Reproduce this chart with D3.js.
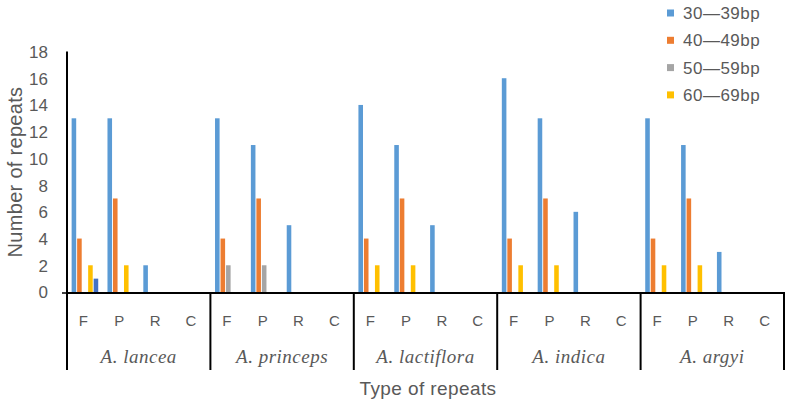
<!DOCTYPE html>
<html><head><meta charset="utf-8">
<script src="https://cdn.jsdelivr.net/npm/d3@7"></script>
<style>body{margin:0;background:#fff}svg{display:block}</style>
</head><body>
<svg id="c" width="786" height="400"></svg>
<script>
const groups = ["A. lancea","A. princeps","A. lactiflora","A. indica","A. argyi"];
const categories = ["F","P","R","C"];
const series = ["30—39bp","40—49bp","50—59bp","60—69bp","70—79bp"];
const legendSeries = ["30—39bp","40—49bp","50—59bp","60—69bp"];
const colors = ["#5B9BD5","#ED7D31","#A5A5A5","#FFC000","#4472C4"];
const yTicks = [0,2,4,6,8,10,12,14,16,18];
// values[group][category] = per-series counts
const lanceaVals    = [[13,4,0,2,1],[13,7,0,2,0],[2,0,0,0,0],[0,0,0,0,0]];
const princepsVals  = [[13,4,2,0,0],[11,7,2,0,0],[5,0,0,0,0],[0,0,0,0,0]];
const lactifloraVals= [[14,4,0,2,0],[11,7,0,2,0],[5,0,0,0,0],[0,0,0,0,0]];
const indicaVals    = [[16,4,0,2,0],[13,7,0,2,0],[6,0,0,0,0],[0,0,0,0,0]];
const argyiVals     = [[13,4,0,2,0],[11,7,0,2,0],[3,0,0,0,0],[0,0,0,0,0]];
const values = [lanceaVals, princepsVals, lactifloraVals, indicaVals, argyiVals];

const svg = d3.select("#c");
const L = 67, R = 784, Y0 = 292, Y1 = 51.5;
const txt = "#595959";
const sans = "Liberation Sans, Arial, sans-serif";
const x0 = d3.scaleBand().domain(groups).range([L, R]);
const x1 = d3.scaleBand().domain(categories).range([0, x0.bandwidth()]);
const cw = x1.bandwidth();
const x2 = d3.scaleBand().domain(series).range([cw/2 - 13.3, cw/2 + 13.3]).paddingInner(0.17);
const y = d3.scaleLinear().domain([0,18]).range([Y0, Y1]);

// bars
const data = [];
groups.forEach((g,gi)=>categories.forEach((c,ci)=>series.forEach((s,si)=>{
  const v = values[gi][ci][si];
  if (v>0) data.push({g,c,s,v,si});
})));
svg.append("g").selectAll("rect").data(data).join("rect")
  .attr("x", d=>x0(d.g)+x1(d.c)+x2(d.s))
  .attr("width", x2.bandwidth())
  .attr("y", d=>y(d.v))
  .attr("height", d=>Y0 - y(d.v))
  .attr("fill", d=>colors[d.si]);

// y axis
const yAxis = d3.axisLeft(y).tickValues(yTicks).tickSize(0).tickPadding(0);
const ya = svg.append("g").attr("transform",`translate(48,0)`).call(yAxis);
ya.select(".domain").remove();
ya.selectAll("text").attr("fill",txt).attr("font-family",sans).attr("font-size",17).attr("dy","0.35em");
svg.append("line").attr("x1",L).attr("x2",L).attr("y1",Y1).attr("y2",Y0+1).attr("stroke","#000").attr("stroke-width",2);
svg.append("line").attr("x1",L-5).attr("x2",L).attr("y1",Y0+1).attr("y2",Y0+1).attr("stroke","#000").attr("stroke-width",1.5);

// x baseline and group separators
svg.append("line").attr("x1",L).attr("x2",R).attr("y1",Y0+1).attr("y2",Y0+1).attr("stroke","#000").attr("stroke-width",2);
const seps = groups.map(g=>x0(g)).concat([R]);
svg.append("g").selectAll("line").data(seps).join("line")
  .attr("x1",d=>d).attr("x2",d=>d).attr("y1",Y0).attr("y2",370)
  .attr("stroke","#000").attr("stroke-width",2);

// category labels
const cl = [];
groups.forEach(g=>categories.forEach(c=>cl.push({g,c})));
svg.append("g").selectAll("text").data(cl).join("text")
  .attr("x",d=>x0(d.g)+x1(d.c)+cw/2-1.5).attr("y",326)
  .attr("text-anchor","middle").attr("fill",txt)
  .attr("font-family",sans).attr("font-size",15)
  .text(d=>d.c);
svg.append("g").selectAll("text").data(groups).join("text")
  .attr("x",d=>x0(d)+x0.bandwidth()/2).attr("y",363)
  .attr("text-anchor","middle").attr("fill",txt)
  .attr("font-family","Liberation Serif, Times New Roman, serif").attr("font-style","italic").attr("font-size",19)
  .attr("letter-spacing",0.5)
  .text(d=>d);

// axis titles
svg.append("text").attr("x",428).attr("y",395).attr("text-anchor","middle").attr("fill",txt)
  .attr("font-family",sans).attr("font-size",19).attr("letter-spacing",0.4).text("Type of repeats");
svg.append("text").attr("transform","translate(15,172) rotate(-90)").attr("text-anchor","middle").attr("dy","0.35em")
  .attr("fill",txt).attr("font-family",sans).attr("font-size",20).attr("letter-spacing",0.3).text("Number of repeats");

// legend
const lg = svg.append("g").selectAll("g").data(legendSeries).join("g")
  .attr("transform",(d,i)=>`translate(667,${13+i*27.3})`);
lg.append("rect").attr("x",0).attr("y",-3.5).attr("width",7).attr("height",7).attr("fill",(d,i)=>colors[i]);
lg.append("text").attr("x",16).attr("dy","0.35em").attr("fill",txt)
  .attr("font-family",sans).attr("font-size",17).attr("letter-spacing",0.5).text(d=>d);
</script>
</body></html>
